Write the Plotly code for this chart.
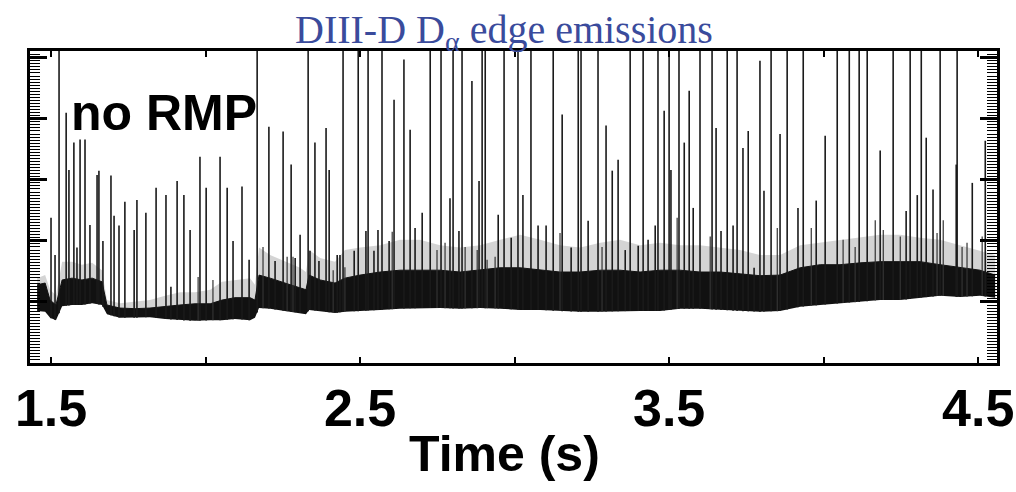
import numpy as np
import plotly.graph_objects as go

# ELM bursts: time (s) and peak D-alpha level (a.u.); 5.5 = off-scale
elm_time = [1.500, 1.513, 1.526, 1.549, 1.558, 1.574, 1.584, 1.594, 1.610, 1.626,
            1.649, 1.655, 1.668, 1.694, 1.704, 1.720, 1.739, 1.769, 1.778, 1.807,
            1.840, 1.872, 1.888, 1.908, 1.930, 1.950, 1.982, 2.002, 2.047, 2.070,
            2.089, 2.118, 2.141, 2.167, 2.205, 2.225, 2.251, 2.277, 2.290, 2.306,
            2.332, 2.338, 2.354, 2.367, 2.390, 2.400, 2.426, 2.435, 2.445, 2.481,
            2.494, 2.519, 2.526, 2.545, 2.558, 2.571, 2.594, 2.610, 2.642, 2.662,
            2.678, 2.701, 2.727, 2.762, 2.791, 2.801, 2.820, 2.830, 2.862, 2.885,
            2.895, 2.905, 2.947, 2.966, 2.989, 3.011, 3.027, 3.053, 3.076, 3.102,
            3.125, 3.154, 3.183, 3.206, 3.215, 3.238, 3.270, 3.296, 3.316, 3.335,
            3.358, 3.374, 3.400, 3.416, 3.432, 3.455, 3.464, 3.484, 3.500, 3.506,
            3.532, 3.549, 3.565, 3.578, 3.600, 3.639, 3.652, 3.668, 3.688, 3.707,
            3.720, 3.739, 3.756, 3.775, 3.794, 3.807, 3.830, 3.859, 3.882, 3.917,
            3.934, 3.976, 4.005, 4.044, 4.083, 4.115, 4.141, 4.183, 4.225, 4.267,
            4.280, 4.303, 4.316, 4.332, 4.354, 4.377, 4.429, 4.432, 4.481, 4.523]
elm_peak = [2.38, 1.77, 5.5, 4.10, 3.16, 3.61, 1.89, 3.66, 3.66, 2.26,
            3.08, 3.15, 2.00, 3.07, 2.41, 2.25, 2.64, 2.18, 2.67, 2.46,
            2.87, 2.75, 1.25, 2.98, 2.75, 2.18, 3.38, 2.87, 3.38, 2.87,
            2.00, 2.89, 1.69, 5.5, 3.87, 1.67, 3.79, 3.25, 1.72, 2.10,
            5.5, 1.84, 3.61, 1.67, 3.85, 3.16, 1.77, 1.77, 5.5, 1.84,
            5.5, 2.16, 5.5, 1.84, 2.18, 5.5, 2.00, 4.31, 4.97, 3.82,
            2.21, 2.46, 5.5, 5.5, 2.70, 5.5, 2.16, 5.5, 4.62, 2.98,
            5.5, 5.5, 2.43, 5.5, 2.05, 5.5, 2.75, 5.5, 2.25, 2.25,
            5.5, 4.07, 1.89, 5.5, 5.5, 2.33, 5.5, 3.89, 3.15, 3.33,
            1.85, 5.5, 1.92, 5.5, 2.02, 2.25, 5.5, 4.13, 5.5, 3.16,
            5.5, 3.61, 4.46, 2.54, 5.5, 5.5, 3.85, 2.16, 5.5, 2.25,
            5.5, 3.52, 3.80, 1.56, 4.95, 2.82, 5.5, 3.75, 5.5, 2.54,
            5.5, 2.66, 3.72, 5.5, 5.5, 5.5, 5.5, 3.48, 5.5, 2.49,
            5.5, 2.75, 5.5, 3.69, 2.84, 5.5, 3.25, 5.5, 2.95, 3.64]

# smaller inter-ELM bursts riding on the pedestal
minor_time = [1.976, 2.024, 2.186, 2.264, 2.283, 2.413, 2.451, 2.604, 2.749, 2.775,
              2.840, 2.879, 2.911, 2.937, 3.147, 3.283, 3.526, 3.633, 3.850, 3.960,
              4.063, 4.102, 4.167, 4.193, 4.248, 4.367, 4.387, 4.448, 4.464, 4.513]
minor_peak = [1.41, 1.36, 1.90, 1.74, 1.74, 1.52, 1.57, 2.15, 1.85, 1.97,
              1.90, 1.85, 1.69, 1.74, 2.13, 1.90, 2.38, 2.07, 2.21, 2.21,
              2.02, 1.90, 2.34, 2.18, 2.07, 2.13, 2.34, 1.90, 1.97, 2.07]

# Inter-ELM signal envelope: floor, top of the dense core, top of the fringe
band_time = [1.455, 1.481, 1.497, 1.516, 1.536, 1.568, 1.600, 1.633, 1.665, 1.681,
             1.723, 1.772, 1.820, 1.869, 1.917, 1.966, 2.015, 2.053, 2.095, 2.144,
             2.160, 2.173, 2.209, 2.257, 2.306, 2.325, 2.335, 2.371, 2.419, 2.451,
             2.500, 2.565, 2.629, 2.694, 2.759, 2.824, 2.888, 2.953, 3.018, 3.083,
             3.147, 3.212, 3.277, 3.341, 3.406, 3.471, 3.536, 3.600, 3.665, 3.730,
             3.794, 3.859, 3.924, 3.989, 4.053, 4.118, 4.183, 4.248, 4.312, 4.377,
             4.442, 4.506, 4.555]
band_floor = [0.85, 0.84, 0.74, 0.70, 0.93, 0.95, 0.95, 0.98, 0.95, 0.80,
              0.74, 0.74, 0.75, 0.72, 0.70, 0.69, 0.70, 0.70, 0.72, 0.70,
              0.74, 0.90, 0.89, 0.85, 0.82, 0.80, 0.87, 0.85, 0.82, 0.84,
              0.85, 0.87, 0.89, 0.90, 0.90, 0.89, 0.90, 0.89, 0.87, 0.87,
              0.85, 0.84, 0.84, 0.85, 0.85, 0.85, 0.89, 0.89, 0.87, 0.85,
              0.84, 0.85, 0.92, 0.95, 0.98, 1.00, 1.03, 1.03, 1.07, 1.10,
              1.08, 1.10, 1.07]
band_core = [1.28, 1.31, 1.03, 0.95, 1.36, 1.39, 1.36, 1.39, 1.33, 0.95,
             0.90, 0.89, 0.90, 0.93, 0.95, 0.97, 0.97, 1.03, 1.07, 1.07,
             1.03, 1.44, 1.39, 1.31, 1.23, 1.20, 1.44, 1.36, 1.31, 1.39,
             1.44, 1.49, 1.52, 1.52, 1.52, 1.49, 1.52, 1.56, 1.56, 1.52,
             1.49, 1.49, 1.52, 1.52, 1.49, 1.52, 1.52, 1.49, 1.49, 1.46,
             1.43, 1.44, 1.56, 1.61, 1.61, 1.64, 1.66, 1.66, 1.66, 1.61,
             1.56, 1.52, 1.44]
band_fringe = [1.39, 1.44, 1.20, 1.11, 1.66, 1.66, 1.61, 1.64, 1.52, 1.03,
               0.98, 1.00, 1.03, 1.10, 1.16, 1.16, 1.20, 1.33, 1.36, 1.39,
               1.28, 1.89, 1.77, 1.66, 1.56, 1.49, 1.85, 1.72, 1.66, 1.85,
               1.89, 1.93, 2.02, 2.02, 1.93, 1.89, 1.93, 2.02, 2.10, 2.02,
               1.93, 1.89, 1.97, 2.02, 1.93, 1.97, 1.93, 1.93, 1.89, 1.85,
               1.77, 1.77, 1.93, 1.97, 2.02, 2.05, 2.10, 2.10, 2.05, 2.02,
               1.93, 1.85, 1.77]

x_ticks = [1.5, 2.0, 2.5, 3.0, 3.5, 4.0, 4.5]
x_tick_text = ["1.5", "", "2.5", "", "3.5", "", "4.5"]

assert len(elm_time) == len(elm_peak)
assert len(minor_time) == len(minor_peak)

SANS = "Liberation Sans, Arial, Helvetica, sans-serif"


def bursts(times, peaks):
    """Vertical strokes rising from the local signal floor to each peak."""
    feet = np.interp(times, band_time, band_floor)
    xs, ys = [], []
    for t, f, p in zip(times, feet, peaks):
        xs += [t, t, None]
        ys += [f, p, None]
    return xs, ys


fig = go.Figure()
fig.add_trace(go.Scatter(x=band_time, y=band_floor, mode="lines",
                         line=dict(width=0, color="black"), hoverinfo="skip"))
fig.add_trace(go.Scatter(x=band_time, y=band_core, mode="lines", fill="tonexty",
                         fillcolor="#111111", line=dict(width=1, color="#111111"),
                         hoverinfo="skip"))
fig.add_trace(go.Scatter(x=band_time, y=band_fringe, mode="lines", fill="tonexty",
                         fillcolor="rgba(0,0,0,0.17)", line=dict(width=0, color="black"),
                         hoverinfo="skip"))
mx, my = bursts(minor_time, minor_peak)
fig.add_trace(go.Scatter(x=mx, y=my, mode="lines",
                         line=dict(width=1.2, color="#333333"), connectgaps=False))
sx, sy = bursts(elm_time, elm_peak)
fig.add_trace(go.Scatter(x=sx, y=sy, mode="lines",
                         line=dict(width=1.6, color="#1a1a1a"), connectgaps=False))

fig.add_annotation(x=1.865, y=4.10, xref="x", yref="y", text="no RMP",
                   showarrow=False, yanchor="middle",
                   font=dict(family=SANS, size=50, color="black", weight="bold"))
fig.add_annotation(x=0.491, y=-0.293, xref="paper", yref="paper", text="Time (s)",
                   showarrow=False, yanchor="middle",
                   font=dict(family=SANS, size=50, color="black", weight="bold"))
fig.add_annotation(x=0.49, y=0.975, xref="paper", yref="paper", yanchor="bottom",
                   text="DIII-D D<sub>α</sub> edge emissions", showarrow=False,
                   font=dict(family="Liberation Serif, Times New Roman, serif",
                             size=40, color="#3a4b9c"))

fig.update_layout(
    template="none",
    width=1016, height=492, autosize=False,
    margin=dict(l=30, r=19, t=51, b=129),
    paper_bgcolor="white", plot_bgcolor="white",
    showlegend=False,
    xaxis=dict(range=[1.432, 4.561], tickvals=x_ticks, ticktext=x_tick_text,
               ticks="inside", ticklen=6, tickwidth=2, tickcolor="black",
               showline=True, linewidth=3, linecolor="black", mirror="allticks",
               showgrid=False, zeroline=False, automargin=False,
               ticklabeloverflow="allow", ticklabelstandoff=-2,
               tickfont=dict(family=SANS, size=52, color="black", weight="bold")),
    yaxis=dict(range=[0, 5.11], tick0=0, dtick=1, showticklabels=False,
               ticks="inside", ticklen=17, tickwidth=2.5, tickcolor="black",
               minor=dict(ticks="inside", dtick=0.05, ticklen=10, tickwidth=1.4,
                          tickcolor="black"),
               showline=True, linewidth=3, linecolor="black", mirror="allticks",
               showgrid=False, zeroline=False, automargin=False),
)

fig.write_html("out.html")
